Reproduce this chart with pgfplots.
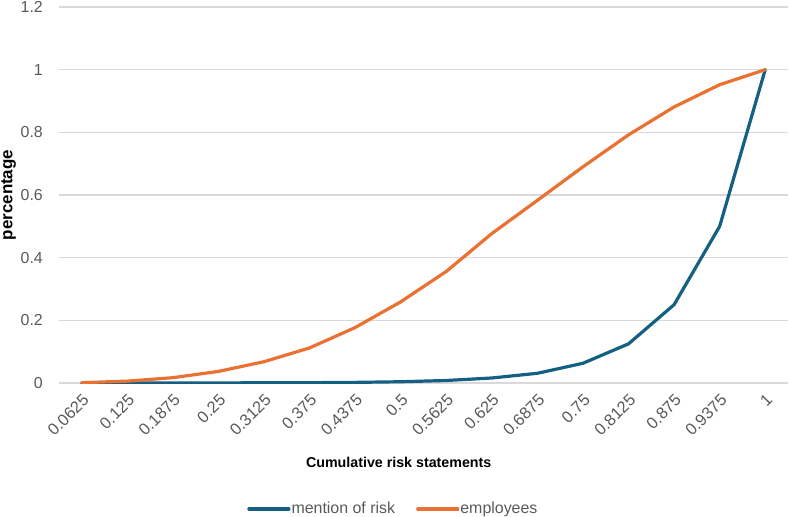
\documentclass[border=0pt]{standalone}
\usepackage{pgfplots}
\pgfplotsset{compat=1.18}
\usepackage{fontspec}
\setmainfont{Liberation Sans}
\definecolor{blueR}{HTML}{156082}
\definecolor{orangeR}{HTML}{E97132}
\definecolor{gridc}{HTML}{D9D9D9}
\definecolor{tickc}{HTML}{595959}
\begin{document}
\begin{tikzpicture}
\begin{axis}[
  scale only axis, width=729bp, height=376bp,
  xmin=-0.5, xmax=15.5, ymin=0, ymax=1.2,
  xtick={0,...,15},
  xticklabels={0.0625,0.125,0.1875,0.25,0.3125,0.375,0.4375,0.5,0.5625,0.625,0.6875,0.75,0.8125,0.875,0.9375,1},
  ytick={0,0.2,0.4,0.6,0.8,1,1.2},
  yticklabels={0,0.2,0.4,0.6,0.8,1,1.2},
  axis line style={draw=none},
  major tick length=0pt,
  ymajorgrids, grid style={gridc, line width=1.2bp},
  x tick label style={font=\fontsize{16.5}{18}\selectfont, text=tickc, inner sep=0pt, xshift=0bp, yshift=-10bp, rotate=45, anchor=north east},
  y tick label style={font=\fontsize{16}{18}\selectfont, text=tickc, anchor=east, inner sep=0pt, xshift=-16bp},
  xlabel={\textbf{Cumulative risk statements}},
  ylabel={\textbf{percentage}},
  xlabel style={font=\fontsize{14.3}{17}\selectfont, at={(axis description cs:0.466,-0.21)}, anchor=center},
  ylabel style={font=\fontsize{17}{19}\selectfont, at={(axis description cs:-0.069,0.5)}, anchor=center, rotate=0},
  legend style={at={(axis description cs:0.458,-0.335)}, anchor=center, draw=none, fill=none,
    font=\fontsize{16}{18}\selectfont, text=tickc, legend columns=2,
    /tikz/every even column/.append style={column sep=20bp},
    /tikz/every odd column/.append style={column sep=0bp},
    nodes={inner sep=1bp}},
  legend image code/.code={\draw[#1] (0bp,0bp) -- (40bp,0bp);},
  every axis plot/.append style={line width=3.2bp, line join=round, line cap=round},
]
\addplot[blueR] coordinates {(0,0) (1,0) (2,0) (3,0) (4,0.001) (5,0.001) (6,0.002) (7,0.004) (8,0.008) (9,0.016) (10,0.031) (11,0.063) (12,0.125) (13,0.25) (14,0.5) (15,1)};
\addlegendentry{mention of risk}
\addplot[orangeR] coordinates {(0,0.001) (1,0.006) (2,0.017) (3,0.037) (4,0.068) (5,0.112) (6,0.177) (7,0.259) (8,0.356) (9,0.477) (10,0.583) (11,0.69) (12,0.792) (13,0.881) (14,0.952) (15,1)};
\addlegendentry{employees}
\end{axis}
\pgfresetboundingbox
\path (-59bp,-134bp) rectangle (730bp,383bp);
\end{tikzpicture}
\end{document}
